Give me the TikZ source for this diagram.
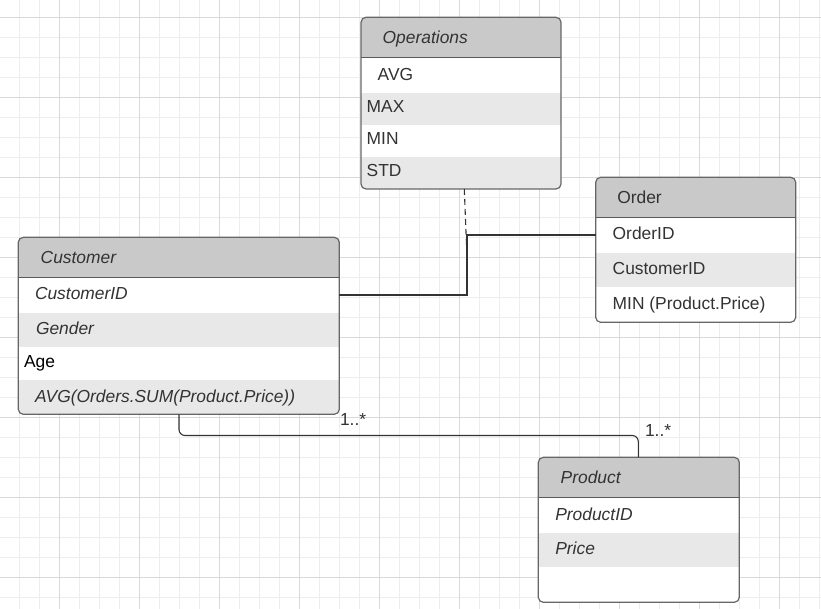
\documentclass[tikz,border=0pt]{standalone}
\usepackage{fontspec}
\setmainfont{Liberation Sans}
\begin{document}
\begin{tikzpicture}[x=1pt,y=-1pt,
  gridminor/.style={draw=black!7,line width=0.8pt},
  gridmajor/.style={draw=black!15,line width=0.9pt},
  classbox/.style={draw=black!60,line width=1.2pt,rounded corners=5pt,rectangle,inner sep=0pt,outer sep=0pt},
  hdrfill/.style={fill=black!21},
  rowfill/.style={fill=black!9},
  sepline/.style={draw=black!65,line width=1.1pt},
  txt/.style={anchor=base west,inner sep=0pt,outer sep=0pt,text=black!80,font=\fontsize{17.4pt}{20pt}\selectfont},
  conn/.style={draw=black!80,line width=1.1pt},
  dconn/.style={draw=black!80,line width=1.1pt,dashed,dash pattern=on 6pt off 4pt}
]
\useasboundingbox (0,0) rectangle (821,609);
\fill[white] (0,0) rectangle (821,609);
% grid
\foreach \i in {0,...,40} {\draw[gridminor] (19.5+20*\i,0) -- (19.5+20*\i,609);}
\foreach \j in {0,...,29} {\draw[gridminor] (0,17.3+20*\j) -- (821,17.3+20*\j);}
\foreach \i in {0,...,9} {\draw[gridmajor] (59.5+80*\i,0) -- (59.5+80*\i,609);}
\foreach \j in {0,...,7} {\draw[gridmajor] (0,17.3+80*\j) -- (821,17.3+80*\j);}

% ---------- Operations ----------
\begin{scope}
\clip[rounded corners=5pt] (361,17.3) rectangle (561,189);
\fill[hdrfill] (361,17.3) rectangle (561,57.7);
\fill[white] (361,57.7) rectangle (561,92.7);
\fill[rowfill] (361,92.7) rectangle (561,125);
\fill[white] (361,125) rectangle (561,157);
\fill[rowfill] (361,157) rectangle (561,189);
\end{scope}
\draw[sepline] (361,57.7) -- (561,57.7);
\node[classbox,minimum width=200pt,minimum height=171.7pt] (ops) at (461,103.15) {};
\node[txt] (opsH) at (382.7,43.3) {\itshape Operations};
\node[txt] (opsA) at (377.7,80.7) {AVG};
\node[txt] (opsB) at (366.7,112.7) {MAX};
\node[txt] (opsC) at (366.7,145) {MIN};
\node[txt] (opsD) at (366.7,176.7) {STD};

% ---------- Customer ----------
\begin{scope}
\clip[rounded corners=5pt] (18.3,237.3) rectangle (339.3,414.3);
\fill[hdrfill] (18.3,237.3) rectangle (339.3,277.7);
\fill[white] (18.3,277.7) rectangle (339.3,312.7);
\fill[rowfill] (18.3,312.7) rectangle (339.3,347.3);
\fill[white] (18.3,347.3) rectangle (339.3,380);
\fill[rowfill] (18.3,380) rectangle (339.3,414.3);
\end{scope}
\draw[sepline] (18.3,277.7) -- (339.3,277.7);
\node[classbox,minimum width=321pt,minimum height=177pt] (cust) at (178.8,325.8) {};
\node[txt] (custH) at (40.7,263.3) {\itshape Customer};
\node[txt] (custA) at (35,300) {\itshape CustomerID};
\node[txt] (custB) at (36,334.3) {\itshape Gender};
\node[txt,text=black] (custC) at (24,367.7) {Age};
\node[txt] (custD) at (35,402.7) {\itshape AVG(Orders.SUM(Product.Price))};

% ---------- Order ----------
\begin{scope}
\clip[rounded corners=5pt] (595.7,177.3) rectangle (795.7,322.3);
\fill[hdrfill] (595.7,177.3) rectangle (795.7,217.7);
\fill[white] (595.7,217.7) rectangle (795.7,252.7);
\fill[rowfill] (595.7,252.7) rectangle (795.7,287.3);
\fill[white] (595.7,287.3) rectangle (795.7,322.3);
\end{scope}
\draw[sepline] (595.7,217.7) -- (795.7,217.7);
\node[classbox,minimum width=200pt,minimum height=145pt] (order) at (695.7,249.8) {};
\node[txt] (ordH) at (617.3,203.3) {Order};
\node[txt] (ordA) at (612.7,240) {OrderID};
\node[txt] (ordB) at (612.7,274.3) {CustomerID};
\node[txt] (ordC) at (612.7,309.3) {MIN (Product.Price)};

% ---------- Product ----------
\begin{scope}
\clip[rounded corners=5pt] (538.3,457.3) rectangle (739.3,602.3);
\fill[hdrfill] (538.3,457.3) rectangle (739.3,497.7);
\fill[white] (538.3,497.7) rectangle (739.3,532.7);
\fill[rowfill] (538.3,532.7) rectangle (739.3,567.3);
\fill[white] (538.3,567.3) rectangle (739.3,602.3);
\end{scope}
\draw[sepline] (538.3,497.7) -- (739.3,497.7);
\node[classbox,minimum width=201pt,minimum height=145pt] (prod) at (638.8,529.8) {};
\node[txt] (prodH) at (560.7,483.3) {\itshape Product};
\node[txt] (prodA) at (555.3,520) {\itshape ProductID};
\node[txt] (prodB) at (555.3,554.3) {\itshape Price};

% ---------- Connectors ----------
\coordinate (j1) at (467,235);
\coordinate (j2) at (467,295);
\coordinate (dtop) at (464.3,0);
\coordinate (dend) at (466.7,250);
\draw[conn] (cust.east |- j2) -- (j2) -- (j1) -- (order.west |- j1);
\draw[dconn] (ops.south -| dtop) -- (dend);

\coordinate (bl) at (179,435.5);
\coordinate (br) at (638.3,435.5);
\draw[conn,rounded corners=6pt] (cust.south -| bl) -- (bl) -- (br) -- (prod.north -| br);
\node[txt] (m1) at (340,425.7) {1..*};
\node[txt] (m2) at (645,436.5) {1..*};
\end{tikzpicture}
\end{document}
